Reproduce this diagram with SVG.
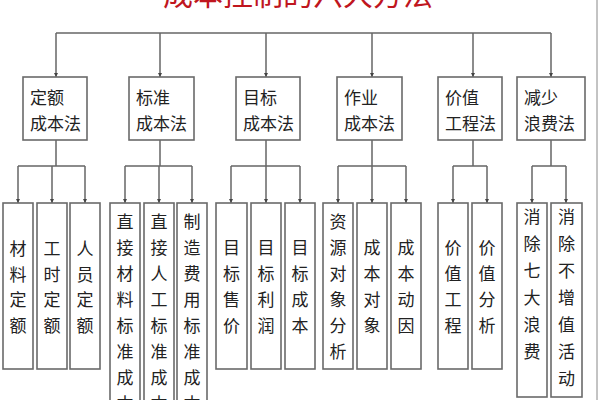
<svg xmlns="http://www.w3.org/2000/svg" width="600" height="400" viewBox="0 0 600 400">
<defs>
<marker id="ah" viewBox="0 0 6 6" refX="6" refY="3" markerWidth="4" markerHeight="4" orient="auto" markerUnits="userSpaceOnUse">
<path d="M0,0 L6,3 L0,6 z" fill="#444"/>
</marker>
<style>
.box{fill:#fff;stroke:#6a6a6a;stroke-width:1.6}
.ln{fill:none;stroke:#666;stroke-width:1.5}
.arr{fill:none;stroke:#666;stroke-width:1.5;marker-end:url(#ah)}
.t{font-family:"Noto Sans CJK SC","Noto Sans",sans-serif;font-size:17px;fill:#222}
.v{font-family:"Noto Sans CJK SC","Noto Sans",sans-serif;font-size:17px;fill:#222;text-anchor:middle}
.title{font-family:"Noto Sans CJK SC","Noto Sans",sans-serif;font-size:30px;fill:#c0161e;text-anchor:middle}
</style>
</defs>
<rect width="600" height="400" fill="#fff"/>
<line x1="597" y1="0" x2="597" y2="400" stroke="#888" stroke-width="1"/>
<text class="title" x="298" y="5">成本控制的六大方法</text>

<g id="connectors">
<path class="ln" d="M56,33 H551"/>
<path class="arr" d="M56,33 V77"/>
<path class="arr" d="M160,33 V77"/>
<path class="arr" d="M266,33 V77"/>
<path class="arr" d="M372,33 V77"/>
<path class="arr" d="M473,33 V77"/>
<path class="arr" d="M551,33 V77"/>

<path class="ln" d="M56,140 V166 M18,166 H85"/>
<path class="arr" d="M18,166 V203"/><path class="arr" d="M52,166 V203"/><path class="arr" d="M85,166 V203"/>
<path class="ln" d="M160,140 V166 M125,166 H192"/>
<path class="arr" d="M125,166 V203"/><path class="arr" d="M159,166 V203"/><path class="arr" d="M192,166 V203"/>
<path class="ln" d="M266,140 V166 M231,166 H300"/>
<path class="arr" d="M231,166 V203"/><path class="arr" d="M266,166 V203"/><path class="arr" d="M300,166 V203"/>
<path class="ln" d="M372,140 V166 M338,166 H406"/>
<path class="arr" d="M338,166 V203"/><path class="arr" d="M372,166 V203"/><path class="arr" d="M406,166 V203"/>
<path class="ln" d="M473,140 V166 M453,166 H487"/>
<path class="arr" d="M453,166 V203"/><path class="arr" d="M487,166 V203"/>
<path class="ln" d="M551,140 V166 M532,166 H566"/>
<path class="arr" d="M532,166 V203"/><path class="arr" d="M566,166 V203"/>
</g>

<g id="n1"><rect class="box" x="23" y="77" width="64" height="63"/><text class="t" x="30" y="104">定额</text><text class="t" x="30" y="130">成本法</text></g>
<g id="n2"><rect class="box" x="129" y="77" width="65" height="63"/><text class="t" x="136" y="104">标准</text><text class="t" x="136" y="130">成本法</text></g>
<g id="n3"><rect class="box" x="236" y="77" width="64" height="63"/><text class="t" x="243" y="104">目标</text><text class="t" x="243" y="130">成本法</text></g>
<g id="n4"><rect class="box" x="337" y="77" width="65" height="63"/><text class="t" x="344" y="104">作业</text><text class="t" x="344" y="130">成本法</text></g>
<g id="n5"><rect class="box" x="438" y="77" width="64" height="63"/><text class="t" x="445" y="104">价值</text><text class="t" x="445" y="130">工程法</text></g>
<g id="n6"><rect class="box" x="517" y="77" width="68" height="63"/><text class="t" x="524" y="104">减少</text><text class="t" x="524" y="130">浪费法</text></g>

<g id="c1"><rect class="box" x="3" y="203" width="30" height="166"/><text class="v"><tspan x="18" y="255">材</tspan><tspan x="18" dy="25.5">料</tspan><tspan x="18" dy="25.5">定</tspan><tspan x="18" dy="25.5">额</tspan></text></g>
<g id="c2"><rect class="box" x="37" y="203" width="30" height="166"/><text class="v"><tspan x="52" y="255">工</tspan><tspan x="52" dy="25.5">时</tspan><tspan x="52" dy="25.5">定</tspan><tspan x="52" dy="25.5">额</tspan></text></g>
<g id="c3"><rect class="box" x="70" y="203" width="30" height="166"/><text class="v"><tspan x="85" y="255">人</tspan><tspan x="85" dy="25.5">员</tspan><tspan x="85" dy="25.5">定</tspan><tspan x="85" dy="25.5">额</tspan></text></g>

<g id="c4"><rect class="box" x="110" y="203" width="30" height="220"/><text class="v"><tspan x="125" y="228">直</tspan><tspan x="125" dy="26">接</tspan><tspan x="125" dy="26">材</tspan><tspan x="125" dy="26">料</tspan><tspan x="125" dy="26">标</tspan><tspan x="125" dy="26">准</tspan><tspan x="125" dy="26">成</tspan><tspan x="125" dy="26">本</tspan></text></g>
<g id="c5"><rect class="box" x="144" y="203" width="30" height="220"/><text class="v"><tspan x="159" y="228">直</tspan><tspan x="159" dy="26">接</tspan><tspan x="159" dy="26">人</tspan><tspan x="159" dy="26">工</tspan><tspan x="159" dy="26">标</tspan><tspan x="159" dy="26">准</tspan><tspan x="159" dy="26">成</tspan><tspan x="159" dy="26">本</tspan></text></g>
<g id="c6"><rect class="box" x="177" y="203" width="30" height="220"/><text class="v"><tspan x="192" y="228">制</tspan><tspan x="192" dy="26">造</tspan><tspan x="192" dy="26">费</tspan><tspan x="192" dy="26">用</tspan><tspan x="192" dy="26">标</tspan><tspan x="192" dy="26">准</tspan><tspan x="192" dy="26">成</tspan><tspan x="192" dy="26">本</tspan></text></g>

<g id="c7"><rect class="box" x="216" y="203" width="31" height="166"/><text class="v"><tspan x="231.5" y="254">目</tspan><tspan x="231.5" dy="26">标</tspan><tspan x="231.5" dy="26">售</tspan><tspan x="231.5" dy="26">价</tspan></text></g>
<g id="c8"><rect class="box" x="251" y="203" width="30" height="166"/><text class="v"><tspan x="266" y="254">目</tspan><tspan x="266" dy="26">标</tspan><tspan x="266" dy="26">利</tspan><tspan x="266" dy="26">润</tspan></text></g>
<g id="c9"><rect class="box" x="285" y="203" width="30" height="166"/><text class="v"><tspan x="300" y="254">目</tspan><tspan x="300" dy="26">标</tspan><tspan x="300" dy="26">成</tspan><tspan x="300" dy="26">本</tspan></text></g>

<g id="c10"><rect class="box" x="323" y="203" width="30" height="166"/><text class="v"><tspan x="338" y="228">资</tspan><tspan x="338" dy="26">源</tspan><tspan x="338" dy="26">对</tspan><tspan x="338" dy="26">象</tspan><tspan x="338" dy="26">分</tspan><tspan x="338" dy="26">析</tspan></text></g>
<g id="c11"><rect class="box" x="357" y="203" width="30" height="166"/><text class="v"><tspan x="372" y="254">成</tspan><tspan x="372" dy="26">本</tspan><tspan x="372" dy="26">对</tspan><tspan x="372" dy="26">象</tspan></text></g>
<g id="c12"><rect class="box" x="391" y="203" width="30" height="166"/><text class="v"><tspan x="406" y="254">成</tspan><tspan x="406" dy="26">本</tspan><tspan x="406" dy="26">动</tspan><tspan x="406" dy="26">因</tspan></text></g>

<g id="c13"><rect class="box" x="438" y="203" width="30" height="166"/><text class="v"><tspan x="453" y="254">价</tspan><tspan x="453" dy="26">值</tspan><tspan x="453" dy="26">工</tspan><tspan x="453" dy="26">程</tspan></text></g>
<g id="c14"><rect class="box" x="472" y="203" width="30" height="166"/><text class="v"><tspan x="487" y="254">价</tspan><tspan x="487" dy="26">值</tspan><tspan x="487" dy="26">分</tspan><tspan x="487" dy="26">析</tspan></text></g>

<g id="c15"><rect class="box" x="517" y="203" width="30" height="194"/><text class="v"><tspan x="532" y="223">消</tspan><tspan x="532" dy="27">除</tspan><tspan x="532" dy="27">七</tspan><tspan x="532" dy="27">大</tspan><tspan x="532" dy="27">浪</tspan><tspan x="532" dy="27">费</tspan></text></g>
<g id="c16"><rect class="box" x="551" y="203" width="31" height="194"/><text class="v"><tspan x="566.5" y="223">消</tspan><tspan x="566.5" dy="27">除</tspan><tspan x="566.5" dy="27">不</tspan><tspan x="566.5" dy="27">增</tspan><tspan x="566.5" dy="27">值</tspan><tspan x="566.5" dy="27">活</tspan><tspan x="566.5" dy="27">动</tspan></text></g>
</svg>
